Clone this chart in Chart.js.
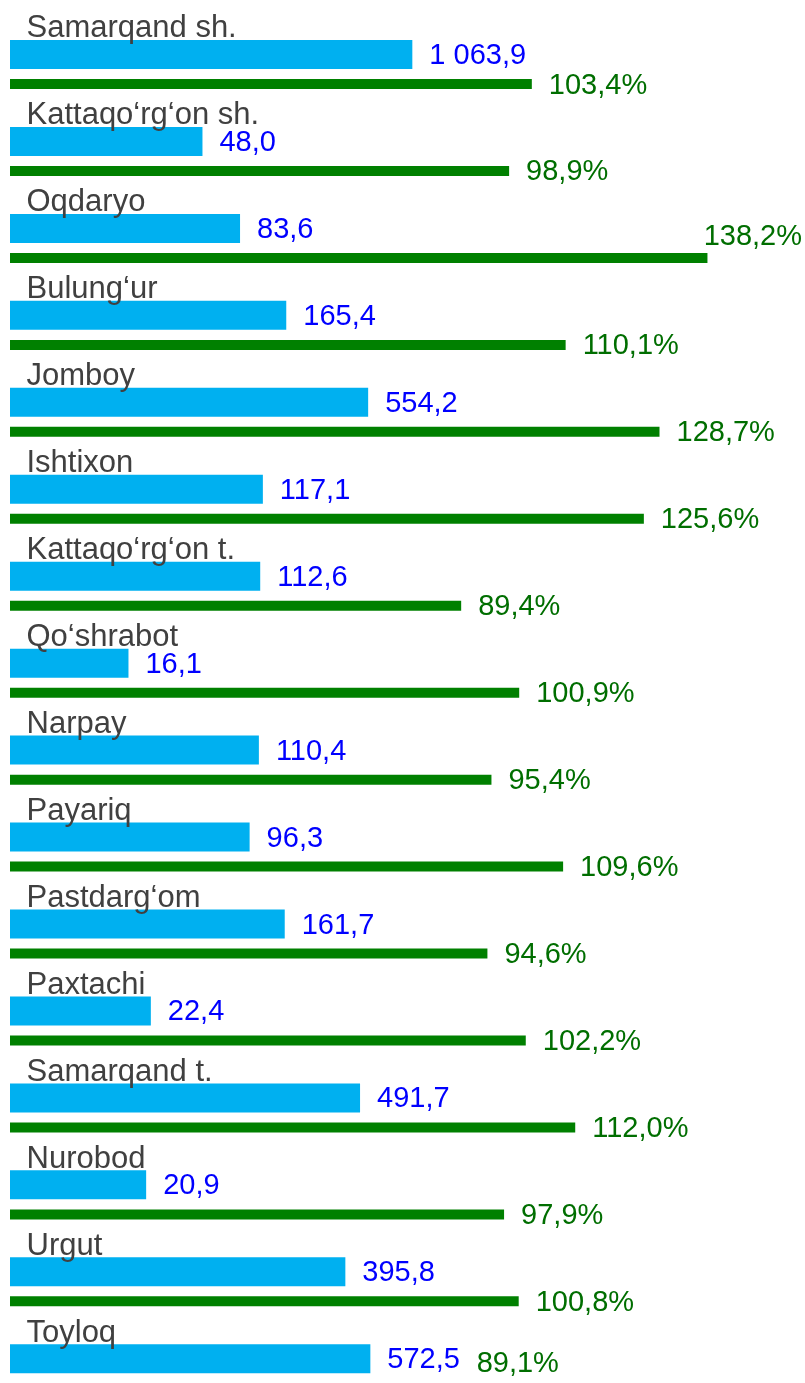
<!DOCTYPE html>
<html>
<head>
<meta charset="utf-8">
<script src="https://cdn.jsdelivr.net/npm/chart.js@4/dist/chart.umd.min.js"></script>
<style>
  html, body { margin: 0; padding: 0; background: #fff; overflow: hidden; }
  #wrap { width: 805px; height: 1417px; position: relative; }
</style>
</head>
<body>
<div id="wrap"><canvas id="chart"></canvas></div>
<script>
// tumanlar / shaharlar
const regions = ['Samarqand sh.', 'Kattaqo‘rg‘on sh.', 'Oqdaryo', 'Bulung‘ur', 'Jomboy', 'Ishtixon',
  'Kattaqo‘rg‘on t.', 'Qo‘shrabot', 'Narpay', 'Payariq', 'Pastdarg‘om', 'Paxtachi',
  'Samarqand t.', 'Nurobod', 'Urgut', 'Toyloq'];
// hajm (mlrd so'm)
const volume = [1063.9, 48.0, 83.6, 165.4, 554.2, 117.1, 112.6, 16.1, 110.4, 96.3, 161.7, 22.4, 491.7, 20.9, 395.8, 572.5];
// o'sish sur'ati, %
const growth = [103.4, 98.9, 138.2, 110.1, 128.7, 125.6, 89.4, 100.9, 95.4, 109.6, 94.6, 102.2, 112.0, 97.9, 100.8, 89.1];

const FONT = '"Liberation Sans", Arial, sans-serif';
// visible part of the page; the last green bar runs past it
const VIEW_H = 1383;

function fmt(v, suffix) {
  const parts = v.toFixed(1).split('.');
  const int = parts[0].replace(/\B(?=(\d{3})+(?!\d))/g, ' ');
  return int + ',' + parts[1] + (suffix || '');
}

// region names above each pair of bars + value labels at bar ends
const labelsPlugin = {
  id: 'labels',
  afterDatasetsDraw(chart) {
    const ctx = chart.ctx;
    const W = chart.width;
    const yScale = chart.scales.y;
    ctx.save();

    ctx.font = '31px ' + FONT;
    ctx.fillStyle = '#404040';
    ctx.textBaseline = 'alphabetic';
    ctx.textAlign = 'left';
    regions.forEach((name, i) => {
      ctx.fillText(name, 26.5, yScale.getPixelForValue(i) - 32);
    });

    ctx.font = '29px ' + FONT;
    ctx.textBaseline = 'middle';
    const styles = [{ color: '#0000FF', suffix: '' }, { color: '#006E00', suffix: '%' }];
    chart.data.datasets.forEach((ds, di) => {
      const meta = chart.getDatasetMeta(di);
      ctx.fillStyle = styles[di].color;
      meta.data.forEach((bar, i) => {
        const text = fmt(ds.data[i], styles[di].suffix);
        const w = ctx.measureText(text).width;
        let x = bar.x + 17;
        let y = bar.y + 1.5;
        if (x + w > W - 3) {
          // no room on the right: push it left, above the bar
          x = W - 3 - w;
          y = bar.y - bar.height / 2 - 16;
        }
        if (y > VIEW_H - 19) y = VIEW_H - 19;
        ctx.fillText(text, x, y);
      });
    });
    ctx.restore();
  }
};

new Chart(document.getElementById('chart'), {
  type: 'bar',
  data: {
    labels: regions,
    datasets: [
      {
        data: volume,
        xAxisID: 'x',
        backgroundColor: '#00B0F0',
        borderWidth: 0,
        categoryPercentage: 0.6787,
        barPercentage: 29 / 29.5
      },
      {
        data: growth,
        xAxisID: 'x2',
        backgroundColor: '#008000',
        borderWidth: 0,
        categoryPercentage: 0.6787,
        barPercentage: 10 / 29.5
      }
    ]
  },
  options: {
    indexAxis: 'y',
    responsive: true,
    maintainAspectRatio: false,
    animation: false,
    layout: { padding: { left: 10, right: 38, top: 25.8, bottom: 0 } },
    plugins: {
      legend: { display: false },
      tooltip: { enabled: false }
    },
    scales: {
      y: { type: 'category', offset: true, display: false },
      x: { type: 'logarithmic', min: 2.8, max: 200000, display: false },
      x2: { type: 'linear', min: 0, max: 150, display: false }
    }
  },
  plugins: [labelsPlugin]
});
</script>
</body>
</html>
